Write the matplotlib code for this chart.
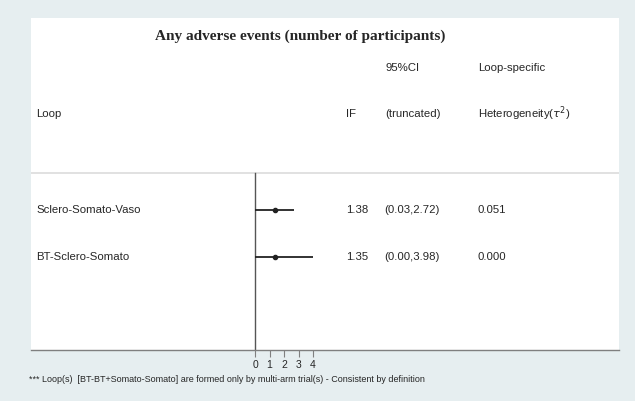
import numpy as np
import matplotlib.pyplot as plt

loops = ['Sclero-Somato-Vaso', 'BT-Sclero-Somato']
if_vals = [1.38, 1.35]
ci_low = [0.03, 0.00]
ci_high = [2.72, 3.98]
tau2 = ['0.051', '0.000']
xticks = [0, 1, 2, 3, 4]
footnote = '*** Loop(s)  [BT-BT+Somato-Somato] are formed only by multi-arm trial(s) - Consistent by definition'

W, H = 635, 401
bg = '#e6eef0'
txt = '#262626'
plt.rcParams['font.family'] = ['Liberation Sans', 'DejaVu Sans']

fig = plt.figure(figsize=(W / 100, H / 100), dpi=100, facecolor=bg)

# white plot region, in pixels
left, right, top, bottom = 31, 619, 18, 350
ax = fig.add_axes([left / W, 1 - bottom / H, (right - left) / W, (bottom - top) / H])
ax.set_facecolor('white')

# x scale: 0 sits at px 255, 4 at px 313
x0_px, px_per_unit = 255, 14.5
ax.set_xlim((left - x0_px) / px_per_unit, (right - x0_px) / px_per_unit)
ax.set_ylim(bottom, top)

for s in ['top', 'right', 'left']:
    ax.spines[s].set_visible(False)
ax.spines['bottom'].set_color('#7f7f7f')
ax.spines['bottom'].set_linewidth(1.0)
ax.set_yticks([])
ax.set_xticks(xticks)
ax.set_xticklabels([str(t) for t in xticks], fontsize=7.5, color=txt)
ax.tick_params(axis='x', direction='out', length=5, width=0.8, color='#7f7f7f', pad=2)

# header separator and null line
sep_y = 173
ax.axhline(sep_y, color='#dcdcdc', lw=1.2)
ax.plot([0, 0], [sep_y, bottom], color='#555555', lw=1.0)

row_y = [210, 257]
ax.errorbar(if_vals, row_y,
            xerr=[np.array(if_vals) - np.array(ci_low), np.array(ci_high) - np.array(if_vals)],
            fmt='o', color='#222222', ms=3, elinewidth=1.3, capsize=0)


def px(x, y, s, **kw):
    fig.text(x / W, 1 - y / H, s, va='center', color=txt, **kw)


fs = 8.2
px(300, 36, 'Any adverse events (number of participants)', ha='center',
   fontsize=11, fontweight='bold', family=['Liberation Serif', 'DejaVu Serif'])
px(386, 68, '95%CI', fontsize=fs)
px(478, 68, 'Loop-specific', fontsize=fs)
px(36, 114, 'Loop', fontsize=fs)
px(346, 114, 'IF', fontsize=fs)
px(385, 114, '(truncated)', fontsize=fs)
px(478, 114, r'Heterogeneity($\tau^2$)', fontsize=fs)

for i, name in enumerate(loops):
    y = row_y[i]
    px(36, y, name, fontsize=fs)
    px(346, y, f'{if_vals[i]:.2f}', fontsize=fs)
    px(384, y, f'({ci_low[i]:.2f},{ci_high[i]:.2f})', fontsize=fs)
    px(478, y, tau2[i], fontsize=fs)

px(29, 380, footnote, fontsize=6.5)

fig.savefig('out.png', dpi=100, facecolor=bg)
